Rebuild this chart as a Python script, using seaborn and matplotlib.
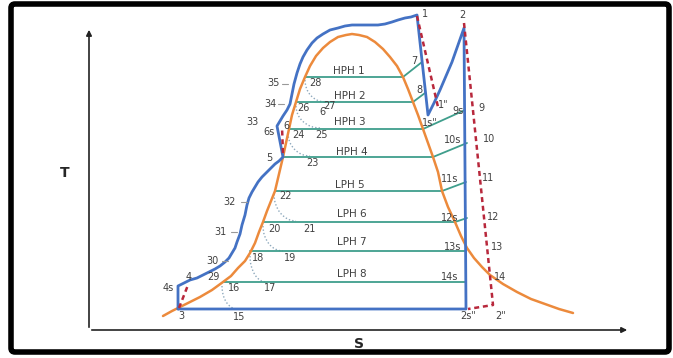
import matplotlib
matplotlib.use("Agg")
import matplotlib.pyplot as plt
import seaborn as sns
from matplotlib.patches import Arc, FancyBboxPatch

# saturation dome (s, T) in arbitrary schematic units
dome_s = [74, 83, 91, 101, 111, 123, 134, 142, 149, 156, 161, 166, 170, 174, 178, 182, 186,
          190, 194, 197, 200, 203, 207, 211, 216, 221, 227, 234, 241, 249, 257, 263, 270,
          278, 286, 294, 301, 308, 314, 319, 324, 329, 334, 339, 344, 349, 353, 359, 366,
          372, 378, 385, 393, 401, 414, 428, 442, 456, 470, 484]
dome_T = [14, 19, 23, 28, 33, 40, 48, 54, 62, 69, 77, 87, 98, 108, 119, 129, 139,
          156, 173, 187, 201, 215, 228, 241, 253, 264, 274, 282, 288, 293, 295, 296, 295,
          293, 288, 281, 273, 264, 253, 241, 228, 215, 201, 187, 173, 158, 139, 123, 108,
          94, 82, 72, 63, 55, 46, 38, 31, 26, 21, 17]

# cycle path 3-4s-...-5-6s-...-1-1s"-2-2s"-3
cycle_s = [89, 89, 95, 101, 108, 114, 120, 126, 131, 136, 140, 143, 146, 148, 151, 153, 156,
           158, 160, 163, 166, 169, 173, 177, 181, 186, 190, 194, 188, 191, 194, 198, 201,
           203, 205, 208, 211, 214, 218, 223, 228, 234, 241, 249, 256, 263, 271, 281, 289,
           296, 303, 309, 316, 322, 328, 339, 345, 351, 357, 363, 369, 375, 377, 89]
cycle_T = [21, 44, 47, 50, 52, 55, 58, 61, 64, 68, 72, 77, 82, 88, 96, 105, 115,
           125, 132, 138, 143, 148, 153, 157, 161, 166, 169, 173, 204, 209, 214, 220, 226,
           236, 246, 257, 266, 273, 280, 287, 292, 296, 300, 302, 304, 305, 305, 305, 305,
           306, 308, 310, 312, 313, 315, 215, 227, 240, 254, 268, 285, 302, 21, 21]

# actual (irreversible) processes, dashed
actual_paths = [
    ([90, 99], [22, 45]),                # 3 -> 4
    ([194, 193], [177, 203]),            # 5 -> 6
    ([328, 349], [314, 223]),            # 1 -> 1"
    ([375, 404, 379], [307, 25, 21]),    # 2 -> 2"
]

# heater extraction lines: liquid side s, vapour side s, T, bleed point (s, T)
heater_names = ["HPH 1", "HPH 2", "HPH 3", "HPH 4", "LPH 5", "LPH 6", "LPH 7", "LPH 8"]
heater_T = [253, 228, 201, 173, 139, 108, 79, 48]
heater_s_liq = [216, 207, 200, 194, 186, 174, 161, 134]
heater_s_vap = [314, 324, 334, 344, 353, 366, 377, 377]
bleed_s = [333, 336, 376, 378, 377, 378, 377, 377]
bleed_T = [268, 237, 220, 187, 148, 112, 79, 48]
name_s = [260, 261, 261, 263, 261, 263, 263, 263]
name_T = [259, 234, 208, 178, 145, 116, 88, 56]

# drain cooler arcs: start point on dome, end on next line
arc_start_s = [216, 207, 199, 185, 174, 161, 133]
arc_start_T = [250, 224, 197, 136, 104, 74, 44]
arc_end_s = [236, 231, 221, 207, 194, 177, 148]
arc_end_T = [228, 202, 174, 109, 79, 48, 21]

# point labels
point_labels = ["1", "2", "7", "8", '1"', "9s", "9", '1s"', "10s", "10", "11s", "11", "12s", "12",
                "13s", "13", "14s", "14", '2s"', '2"', "3", "15", "16", "17", "18", "19", "20",
                "21", "22", "23", "24", "25", "26", "27", "6", "28", "29", "30", "31", "32",
                "33", "34", "35", "4", "4s", "5", "6s", "6"]
label_s = [336, 373, 325, 330, 354, 369, 392, 341, 364, 400, 361, 399, 361, 404,
           364, 408, 361, 411, 379, 412, 92, 150, 145, 181, 169, 201, 185,
           220, 196, 223, 209, 233, 214, 241, 233, 226, 124, 123, 131, 141,
           163, 181, 184, 100, 79, 180, 180, 197]
label_T = [316, 315, 269, 240, 225, 219, 222, 207, 190, 191, 151, 152, 112, 113,
           83, 83, 53, 53, 14, 14, 14, 13, 42, 42, 72, 72, 101,
           101, 134, 167, 195, 195, 222, 224, 218, 247, 53, 69, 98, 128,
           208, 226, 247, 53, 42, 172, 198, 204]

# short ticks for states 30-35 on the feed line
tick_s = [136, 145, 155, 196, 192]
tick_T = [69, 98, 128, 246, 226]

BLUE = "#4472c4"
ORANGE = "#ec8a3c"
GREEN = "#3f9e8c"
RED = "#b8283c"
DOT = "#8ea9bd"
TXT = "#404040"

sns.set_theme(style="white")
fig = plt.figure(figsize=(6.73, 3.58), dpi=100)
ax = fig.add_axes([0, 0, 1, 1])
ax.set_xlim(-89, 584)
ax.set_ylim(-28, 330)
ax.axis("off")

# frame
frame = FancyBboxPatch((-78, -22), 658, 348, boxstyle="round,pad=0,rounding_size=4",
                       fill=False, lw=4, ec="black", clip_on=False)
ax.add_patch(frame)

# T-s axes with arrows
ax.annotate("", xy=(541, 0), xytext=(0, 0),
            arrowprops=dict(arrowstyle="-|>", color="#222222", lw=1.2, mutation_scale=8))
ax.annotate("", xy=(0, 303), xytext=(0, 0),
            arrowprops=dict(arrowstyle="-|>", color="#222222", lw=1.2, mutation_scale=8))
ax.text(-24, 157, "T", fontsize=10, fontweight="bold", ha="center", va="center")
ax.text(270, -14, "S", fontsize=10, fontweight="bold", ha="center", va="center")

# heater lines
for i in range(len(heater_names)):
    ax.plot([heater_s_liq[i], heater_s_vap[i], bleed_s[i]],
            [heater_T[i], heater_T[i], bleed_T[i]], color=GREEN, lw=1.3)
    ax.text(name_s[i], name_T[i], heater_names[i], fontsize=7.5, color=TXT,
            ha="center", va="center")

# drain arcs
for i in range(len(arc_start_s)):
    w = 2 * (arc_end_s[i] - arc_start_s[i])
    h = 2 * (arc_start_T[i] - arc_end_T[i])
    ax.add_patch(Arc((arc_end_s[i], arc_start_T[i]), w, h, theta1=180, theta2=270,
                     color=DOT, lw=1, ls=(0, (1, 1.5))))

sns.lineplot(x=dome_s, y=dome_T, sort=False, estimator=None, color=ORANGE, lw=1.8, ax=ax)
sns.lineplot(x=cycle_s, y=cycle_T, sort=False, estimator=None, color=BLUE, lw=2, ax=ax)

for xs, ys in actual_paths:
    ax.plot(xs, ys, color=RED, lw=1.8, ls=(0, (2, 1.5)))

for s, T in zip(tick_s, tick_T):
    ax.plot([s - 3, s + 3], [T, T], color="#999999", lw=0.8)

for lab, s, T in zip(point_labels, label_s, label_T):
    ax.text(s, T, lab, fontsize=7, color=TXT, ha="center", va="center")

fig.savefig("out.png", dpi=100)
